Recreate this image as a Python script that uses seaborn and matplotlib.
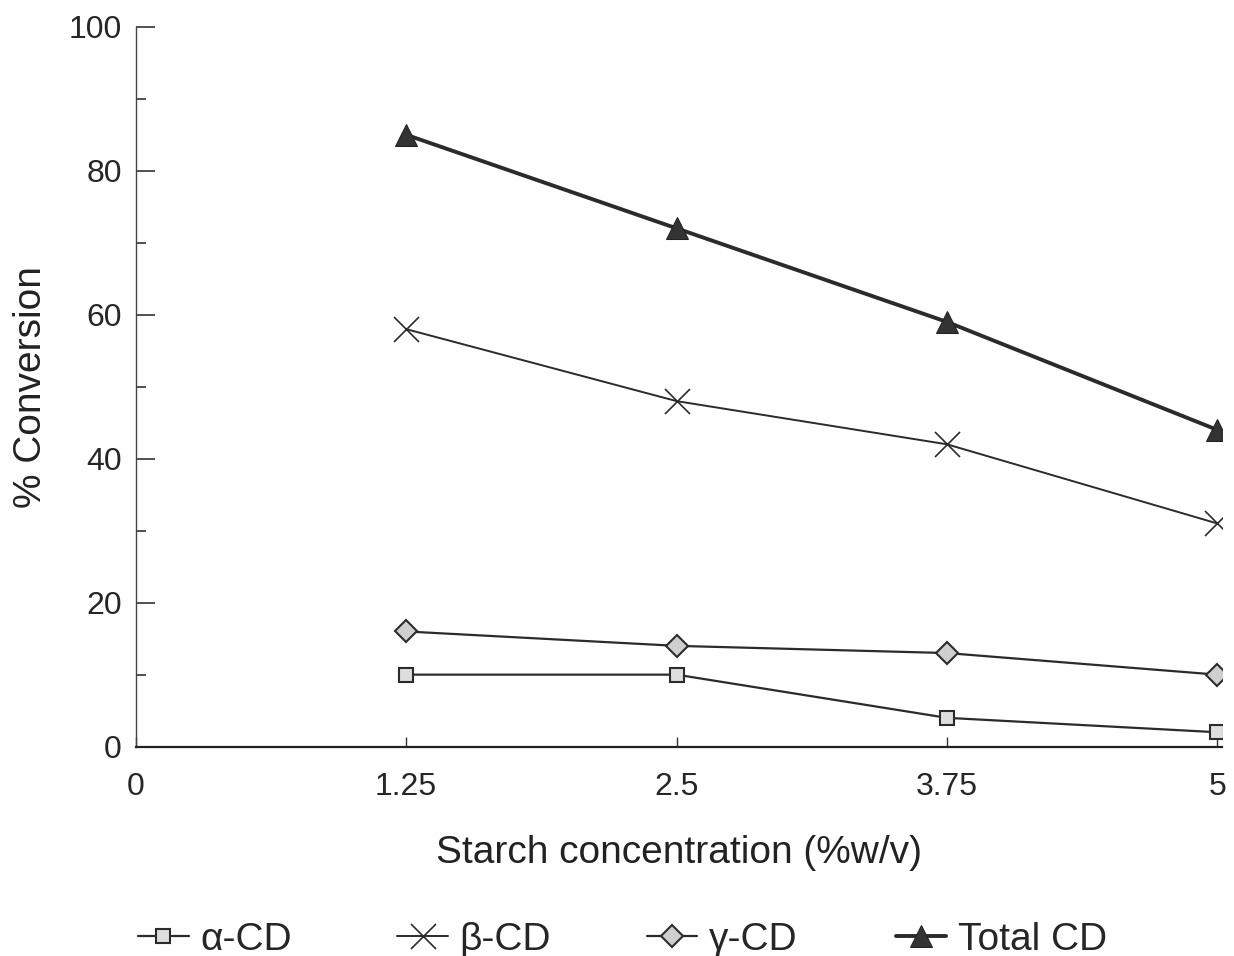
import matplotlib
matplotlib.use("Agg")
import matplotlib.pyplot as plt
import seaborn as sns
import pandas as pd
from matplotlib.ticker import MultipleLocator

starch = [1.25, 2.5, 3.75, 5.0]
alpha_cd = [10, 10, 4, 2]
beta_cd = [58, 48, 42, 31]
gamma_cd = [16, 14, 13, 10]
total_cd = [85, 72, 59, 44]

x_ticks = [0, 1.25, 2.5, 3.75, 5]
x_tick_labels = ["0", "1.25", "2.5", "3.75", "5"]
y_ticks = [0, 20, 40, 60, 80, 100]

sns.set_theme(style="ticks")
plt.rcParams['font.family'] = ['Liberation Sans', 'DejaVu Sans']

fig = plt.figure(figsize=(12.34, 9.56), dpi=100)
ax = fig.add_axes([0.110, 0.219, 0.880, 0.753])

line_col = "#2b2b2b"
series = [
    ("α-CD", alpha_cd, dict(marker="s", markersize=10, markerfacecolor="#dddddd",
                             markeredgecolor=line_col, markeredgewidth=1.5, linewidth=1.6)),
    ("β-CD", beta_cd, dict(marker="x", markersize=18, markeredgecolor=line_col,
                            markeredgewidth=1.2, linewidth=1.4)),
    ("γ-CD", gamma_cd, dict(marker="D", markersize=11, markerfacecolor="#cfcfcf",
                             markeredgecolor=line_col, markeredgewidth=1.5, linewidth=1.6)),
    ("Total CD", total_cd, dict(marker="^", markersize=16, markerfacecolor="#333333",
                                 markeredgecolor="#222222", linewidth=2.8)),
]

for name, vals, kw in series:
    df = pd.DataFrame({"x": starch, "y": vals})
    sns.lineplot(data=df, x="x", y="y", ax=ax, color=line_col, label=name, **kw)

ax.set_xlim(0, 5.02)
ax.set_ylim(0, 100)
ax.set_xticks(x_ticks)
ax.set_xticklabels(x_tick_labels)
ax.set_yticks(y_ticks)
ax.yaxis.set_minor_locator(MultipleLocator(10))
ax.tick_params(axis="y", which="major", direction="in", length=14, width=1.2,
               labelsize=23, pad=10, color="#333333")
ax.tick_params(axis="y", which="minor", direction="in", length=7, width=1.2, color="#333333")
ax.tick_params(axis="x", which="major", direction="in", length=7, width=1.0,
               labelsize=23, pad=18, color="#333333")

for s in ["top", "right"]:
    ax.spines[s].set_visible(False)
ax.spines["left"].set_color("#444444")
ax.spines["bottom"].set_color("#222222")
ax.spines["left"].set_linewidth(1.0)
ax.spines["bottom"].set_linewidth(1.6)

ax.set_xlabel("Starch concentration (%w/v)", fontsize=28, labelpad=24, color="#222222")
ax.set_ylabel("% Conversion", fontsize=28, labelpad=14, color="#222222")

handles, labels = ax.get_legend_handles_labels()
ax.get_legend().remove()
leg_x = [0.112, 0.322, 0.524, 0.726]
for h, lab, lx in zip(handles, labels, leg_x):
    fig.legend([h], [lab], loc="center left", bbox_to_anchor=(lx, 0.017),
               frameon=False, fontsize=28, handlelength=1.3, handletextpad=0.3,
               borderpad=0, borderaxespad=0)

fig.savefig("out.png", dpi=100, facecolor="white")
